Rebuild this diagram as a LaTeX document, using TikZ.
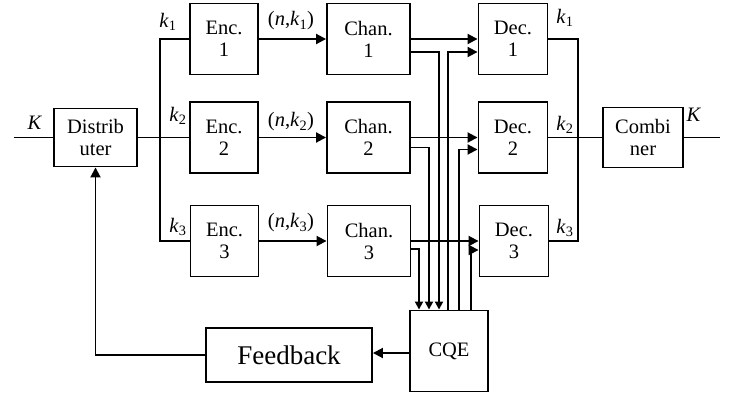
\documentclass[tikz,border=0pt]{standalone}
\usepackage{fontspec}
\setmainfont{Liberation Serif}
\usetikzlibrary{arrows.meta,calc}
\begin{document}
\begin{tikzpicture}[x=1pt,y=-1pt,
  blk/.style={draw,line width=1.9pt,align=center,font=\fontsize{20.5}{22}\selectfont,inner sep=0pt},
  encbox/.style={blk,minimum width=68pt,minimum height=71pt},
  chanbox/.style={blk,minimum width=83pt,minimum height=71pt},
  decbox/.style={blk,minimum width=69pt,minimum height=71pt},
  wire/.style={line width=1.9pt},
  arr/.style={wire,-{Triangle[length=10pt,width=10pt]}},
  sarr/.style={wire,-{Triangle[length=8pt,width=8pt]}},
  lbl/.style={font=\fontsize{20.5}{22}\selectfont,inner sep=0pt}]
\useasboundingbox (0,0) rectangle (730,394);
% blocks
\node[blk,minimum width=83pt,minimum height=58pt] (dist) at (95.5,137.5) {Distrib\\uter};
\node[encbox] (enc1) at (224,39) {Enc.\\1};
\node[encbox] (enc2) at (224,137.5) {Enc.\\2};
\node[encbox] (enc3) at (224.5,241) {Enc.\\3};
\node[chanbox] (chan1) at (368.5,39) {Chan.\\1};
\node[chanbox] (chan2) at (368.5,137.5) {Chan.\\2};
\node[chanbox] (chan3) at (369,241) {Chan.\\3};
\node[decbox] (dec1) at (513,39) {Dec.\\1};
\node[decbox] (dec2) at (513,137.5) {Dec.\\2};
\node[decbox] (dec3) at (514,241) {Dec.\\3};
\node[blk,minimum width=80pt,minimum height=60pt] (comb) at (643,137.5) {Combi\\ner};
\node[blk,minimum width=78pt,minimum height=81pt] (cqe) at (449,351) {CQE};
\node[blk,minimum width=166pt,minimum height=54pt,font=\fontsize{27}{30}\selectfont] (fb) at (289,355) {Feedback};
% input side
\coordinate (kin) at (14,137.5);
\draw[wire] (kin) -- (dist);
\node[lbl] at (35,123) {\textit{K}};
\coordinate (busL) at (160,0);
\draw[wire] (dist) -- (enc2);
\draw[wire] (enc1.west) -| (busL |- enc3.west) -- (enc3.west);
\node[lbl] at (168,22) {\textit{k}\textsubscript{1}};
\node[lbl] at (178,116) {\textit{k}\textsubscript{2}};
\node[lbl] at (178,227) {\textit{k}\textsubscript{3}};
% encoder to channel
\draw[arr] (enc1) -- (chan1);
\draw[arr] (enc2) -- (chan2);
\draw[arr] (enc3) -- (chan3);
\node[lbl] at (291,21) {(\textit{n},\textit{k}\textsubscript{1})};
\node[lbl] at (291,122) {(\textit{n},\textit{k}\textsubscript{2})};
\node[lbl] at (291,223) {(\textit{n},\textit{k}\textsubscript{3})};
% channel to decoder
\draw[arr] (chan1) -- (dec1);
\draw[arr] (chan2) -- (dec2);
\draw[arr] (chan3) -- (dec3);
% channel to CQE
\draw[sarr] ($(chan1.east)+(0,13)$) -| ([xshift=-10pt]cqe.north);
\draw[sarr] ($(chan2.east)+(0,10)$) -| ([xshift=-20pt]cqe.north);
\draw[sarr] ($(chan3.east)+(0,8)$) -| ([xshift=-30pt]cqe.north);
% CQE to decoders
\draw[arr] ([xshift=-1pt]cqe.north) |- ($(dec1.west)+(0,13)$);
\draw[arr] ([xshift=10pt]cqe.north) |- ($(dec2.west)+(0,12)$);
\draw[arr] ([xshift=22pt]cqe.north) |- ($(dec3.west)+(0,9)$);
% decoder outputs
\coordinate (busR) at (578,0);
\draw[wire] (dec1.east) -| (busR |- dec3.east) -- (dec3.east);
\draw[wire] (dec2) -- (comb);
\node[lbl] at (565,18) {\textit{k}\textsubscript{1}};
\node[lbl] at (565,125) {\textit{k}\textsubscript{2}};
\node[lbl] at (565,228) {\textit{k}\textsubscript{3}};
\coordinate (kout) at (720,137.5);
\draw[wire] (comb) -- (kout);
\node[lbl] at (694,115) {\textit{K}};
% feedback
\coordinate (fbr) at ($(fb.east)+(0,-2)$);
\draw[arr] (fbr -| cqe.west) -- (fbr);
\draw[arr] (fb.west) -| (dist.south);
\end{tikzpicture}
\end{document}
